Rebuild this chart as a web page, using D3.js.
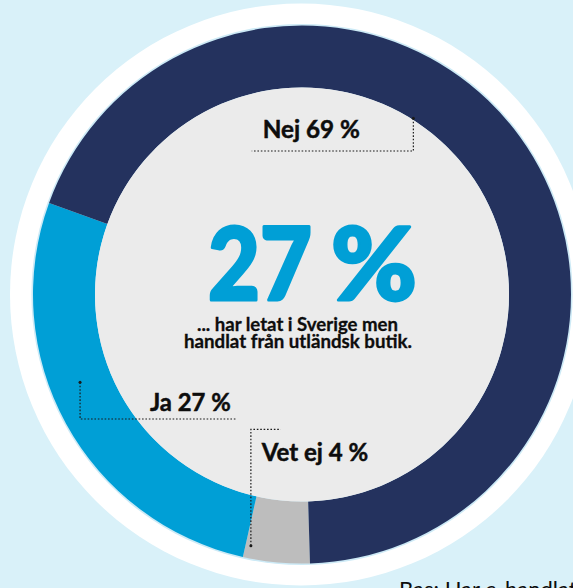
<!DOCTYPE html>
<html>
<head>
<meta charset="utf-8">
<script src="https://cdn.jsdelivr.net/npm/d3@7"></script>
<style>
  html, body { margin: 0; padding: 0; background: #d9f1f9; }
  svg { display: block; }
</style>
</head>
<body>
<div id="chart"></div>
<script>
// Survey answers, in drawing order around the ring
const categories = ["Vet ej", "Ja", "Nej"];
const values = [4, 27, 69];
const sliceLabels = ["Vet ej 4 %", "Ja 27 %", "Nej 69 %"];
const headline = "27";
const headlineUnit = "%";
const subtitle = ["... har letat i Sverige men", "handlat från utländsk butik."];
const footnote = "Bas: Har e-handlat från";

const W = 573, H = 588;
const cx = 302, cy = 294.5;
const outerR = 269, innerR = 207;

const color = d3.scaleOrdinal()
  .domain(categories)
  .range(["#bdbdbd", "#009fd6", "#24325e"]);

const svg = d3.select("#chart").append("svg")
  .attr("width", W).attr("height", H);

svg.append("rect").attr("width", W).attr("height", H).attr("fill", "#d9f1f9");

// white halo behind the ring
svg.append("circle").attr("cx", cx - 1).attr("cy", cy).attr("r", 291).attr("fill", "#ffffff");
svg.append("circle").attr("cx", cx).attr("cy", cy).attr("r", outerR + 1.6).attr("fill", "#cdeaf6");

const g = svg.append("g").attr("transform", `translate(${cx},${cy})`);

const start = 178.3 * Math.PI / 180;
const pie = d3.pie().sort(null).value(d => d.value)
  .startAngle(start).endAngle(start + 2 * Math.PI);
const arc = d3.arc().innerRadius(innerR).outerRadius(outerR);

const data = categories.map((c, i) => ({ cat: c, value: values[i] }));

g.selectAll("path.slice")
  .data(pie(data))
  .join("path")
  .attr("class", "slice")
  .attr("d", arc)
  .attr("fill", d => color(d.data.cat));

g.append("circle").attr("r", innerR).attr("fill", "#ebebeb");

// leader lines: anchor on the ring, then elbow to the label
const polar = (deg, rad) => [cx + rad * Math.sin(deg * Math.PI / 180), cy - rad * Math.cos(deg * Math.PI / 180)];
const leaders = [
  { anchor: polar(191.5, 256.4), path: a => [a, [a[0], 429.3], [280.7, 429.3]], label: [261.7, 460.7], len: 106.6 },
  { anchor: polar(248.4, 238.7), path: a => [a, [a[0], 419], [236, 419]], label: [150, 410.7], len: 80.7 },
  { anchor: polar(32.3, 208.4), path: a => [a, [a[0], 151], [251.7, 151]], label: [262.7, 138.3], len: 97.3 }
];

const line = d3.line();
leaders.forEach((L, i) => {
  svg.append("path")
    .attr("d", line(L.path(L.anchor)))
    .attr("fill", "none")
    .attr("stroke", "#1a1a1a")
    .attr("stroke-width", 1.2)
    .attr("stroke-dasharray", "1.6,1.8");
  svg.append("circle")
    .attr("cx", L.anchor[0]).attr("cy", L.anchor[1]).attr("r", 1.5)
    .attr("fill", "#1a1a1a");
  svg.append("text")
    .attr("x", L.label[0]).attr("y", L.label[1])
    .attr("font-family", "Lato, 'Open Sans', sans-serif")
    .attr("font-weight", 700)
    .attr("font-size", 25)
    .attr("textLength", L.len)
    .attr("lengthAdjust", "spacingAndGlyphs")
    .attr("fill", "#0d0d0d")
    .attr("stroke", "#0d0d0d")
    .attr("stroke-width", 0.5)
    .text(sliceLabels[i]);
});

// headline figure
const big = (x, len, txt) => svg.append("text")
  .attr("x", x).attr("y", 300)
  .attr("font-family", "Lato, Roboto, sans-serif")
  .attr("font-weight", 900)
  .attr("font-size", 101)
  .attr("textLength", len)
  .attr("lengthAdjust", "spacingAndGlyphs")
  .attr("fill", "#009fd6")
  .attr("stroke", "#009fd6")
  .attr("stroke-width", 3)
  .attr("stroke-linejoin", "round")
  .text(txt);
big(208, 104, headline);
big(331, 86, headlineUnit);

svg.selectAll("text.sub")
  .data(subtitle)
  .join("text")
  .attr("class", "sub")
  .attr("x", (d, i) => i === 0 ? 297.5 : 298)
  .attr("y", (d, i) => 331 + i * 16.6)
  .attr("text-anchor", "middle")
  .attr("font-family", "Lato, 'Open Sans', sans-serif")
  .attr("font-weight", 700)
  .attr("font-size", 18)
  .attr("textLength", (d, i) => i === 0 ? 201 : 228)
  .attr("lengthAdjust", "spacingAndGlyphs")
  .attr("fill", "#0d0d0d")
  .attr("stroke", "#0d0d0d")
  .attr("stroke-width", 0.3)
  .text(d => d);

svg.append("text")
  .attr("x", 399).attr("y", 597)
  .attr("font-family", "Lato, 'Open Sans', sans-serif")
  .attr("font-size", 22)
  .attr("fill", "#0d0d0d")
  .text(footnote);
</script>
</body>
</html>
